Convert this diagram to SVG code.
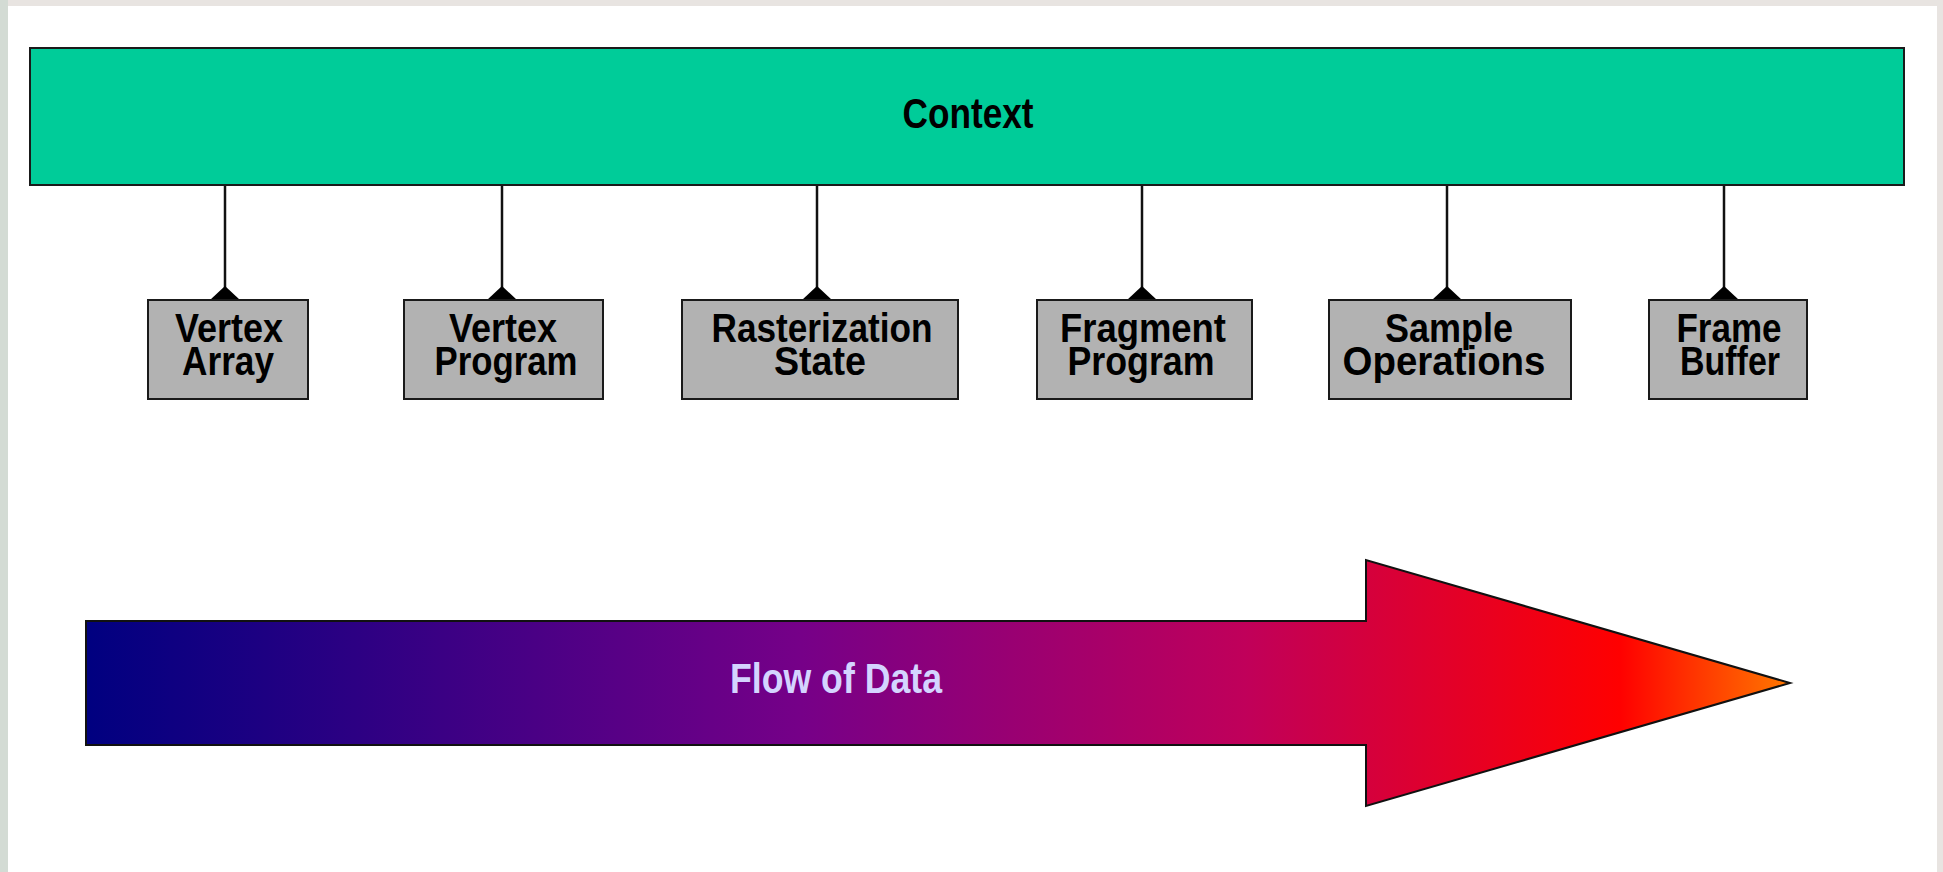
<svg xmlns="http://www.w3.org/2000/svg" width="1943" height="872" viewBox="0 0 1943 872">
  <style>
    .lbl { font-family: "Liberation Sans", Arial, sans-serif; font-weight: bold; fill: #000; text-anchor: middle; font-size: 40px; }
    .node { fill: #b2b2b2; stroke: #1a1a1a; stroke-width: 2; }
    .conn { stroke: #111; stroke-width: 2.5; fill: none; marker-end: url(#diamond); }
  </style>
  <defs>
    <marker id="diamond" viewBox="-15 -15 30 30" refX="0" refY="0" markerWidth="30" markerHeight="30" markerUnits="userSpaceOnUse" orient="auto">
      <path d="M-14,0 L0,-15 L14,0 L0,15 Z" fill="#000"/>
    </marker>
    <linearGradient id="flow" gradientUnits="userSpaceOnUse" x1="86" y1="0" x2="1790" y2="0">
      <stop offset="0" stop-color="#000080"/>
      <stop offset="0.42" stop-color="#760088"/>
      <stop offset="0.68" stop-color="#c0005a"/>
      <stop offset="0.9" stop-color="#ff0000"/>
      <stop offset="1" stop-color="#ff7800"/>
    </linearGradient>
  </defs>

  <rect x="0" y="0" width="1943" height="872" fill="#e8e4e1"/>
  <rect x="0" y="0" width="8" height="872" fill="#d3dbd4"/>
  <rect x="8" y="6" width="1929" height="866" fill="#ffffff"/>

  <g id="connectors">
    <line class="conn" x1="225" y1="185" x2="225" y2="300"/>
    <line class="conn" x1="502" y1="185" x2="502" y2="300"/>
    <line class="conn" x1="817" y1="185" x2="817" y2="300"/>
    <line class="conn" x1="1142" y1="185" x2="1142" y2="300"/>
    <line class="conn" x1="1447" y1="185" x2="1447" y2="300"/>
    <line class="conn" x1="1724" y1="185" x2="1724" y2="300"/>
  </g>

  <g id="context">
    <rect x="30" y="48" width="1874" height="137" fill="#00cc99" stroke="#1a1a1a" stroke-width="2"/>
    <text class="lbl" x="968" y="128" style="font-size:42px" textLength="131" lengthAdjust="spacingAndGlyphs">Context</text>
  </g>

  <g id="vertex-array">
    <rect class="node" x="148" y="300" width="160" height="99"/>
    <text class="lbl" x="229" y="342" textLength="108" lengthAdjust="spacingAndGlyphs">Vertex</text>
    <text class="lbl" x="228" y="375" textLength="92" lengthAdjust="spacingAndGlyphs">Array</text>
  </g>
  <g id="vertex-program">
    <rect class="node" x="404" y="300" width="199" height="99"/>
    <text class="lbl" x="503" y="342" textLength="108" lengthAdjust="spacingAndGlyphs">Vertex</text>
    <text class="lbl" x="506" y="375" textLength="143" lengthAdjust="spacingAndGlyphs">Program</text>
  </g>
  <g id="rasterization-state">
    <rect class="node" x="682" y="300" width="276" height="99"/>
    <text class="lbl" x="822" y="342" textLength="221" lengthAdjust="spacingAndGlyphs">Rasterization</text>
    <text class="lbl" x="820" y="375" textLength="92" lengthAdjust="spacingAndGlyphs">State</text>
  </g>
  <g id="fragment-program">
    <rect class="node" x="1037" y="300" width="215" height="99"/>
    <text class="lbl" x="1143" y="342" textLength="166" lengthAdjust="spacingAndGlyphs">Fragment</text>
    <text class="lbl" x="1141" y="375" textLength="147" lengthAdjust="spacingAndGlyphs">Program</text>
  </g>
  <g id="sample-operations">
    <rect class="node" x="1329" y="300" width="242" height="99"/>
    <text class="lbl" x="1449" y="342" textLength="128" lengthAdjust="spacingAndGlyphs">Sample</text>
    <text class="lbl" x="1444" y="375" textLength="203" lengthAdjust="spacingAndGlyphs">Operations</text>
  </g>
  <g id="frame-buffer">
    <rect class="node" x="1649" y="300" width="158" height="99"/>
    <text class="lbl" x="1729" y="342" textLength="105" lengthAdjust="spacingAndGlyphs">Frame</text>
    <text class="lbl" x="1730" y="375" textLength="100" lengthAdjust="spacingAndGlyphs">Buffer</text>
  </g>

  <g id="flow-of-data">
    <path d="M86,621 L1366,621 L1366,560 L1790,683 L1366,806 L1366,745 L86,745 Z" fill="url(#flow)" stroke="#111" stroke-width="2" stroke-linejoin="miter"/>
    <text x="836" y="693" font-size="42" font-family="'Liberation Sans', Arial, sans-serif" font-weight="bold" fill="#d4d4ff" text-anchor="middle" textLength="212" lengthAdjust="spacingAndGlyphs">Flow of Data</text>
  </g>
</svg>
